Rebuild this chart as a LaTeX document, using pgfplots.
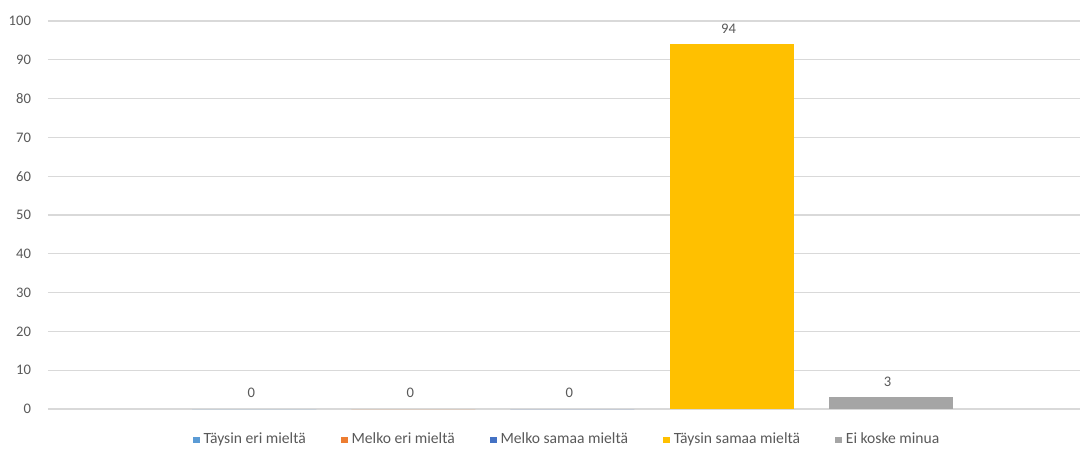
\documentclass[border=0pt]{standalone}
\usepackage{pgfplots}
\pgfplotsset{compat=1.18}
\usepackage{fontspec}
\setmainfont{Carlito}

\definecolor{sA}{HTML}{5B9BD5}
\definecolor{sB}{HTML}{ED7D31}
\definecolor{sC}{HTML}{4472C4}
\definecolor{sD}{HTML}{FFC000}
\definecolor{sE}{HTML}{A5A5A5}
\definecolor{txt}{HTML}{595959}
\definecolor{grid}{HTML}{D9D9D9}

\begin{document}
\begin{tikzpicture}
% fixed canvas around the plot area
\useasboundingbox (-24pt,-20.5pt) rectangle (516pt,204.5pt);
\begin{axis}[
  at={(0,0)}, anchor=south west,
  scale only axis,
  width=516pt, height=194pt,
  xmin=-0.296, xmax=6.19,
  ymin=0, ymax=100,
  ytick={0,10,...,100},
  xtick=\empty,
  axis line style={draw=none},
  y axis line style={draw=none},
  x axis line style={draw=grid, line width=0.6pt},
  major tick length=0pt,
  ymajorgrids,
  grid style={draw=grid, line width=0.6pt},
  tick label style={font=\fontsize{7.3}{9}\selectfont, text=txt},
  /pgf/number format/assume math mode=true,
  yticklabel style={xshift=-5pt},
  ybar, bar width=0.78, bar shift=0pt,
  nodes near coords,
  every node near coord/.append style={font=\fontsize{7.3}{9}\selectfont, text=txt, yshift=2pt, xshift=-1.5pt},
  clip=false,
  legend style={
    at={(0.504,-0.08)}, anchor=center, draw=none, fill=none,
    font=\fontsize{7.8}{9}\selectfont, text=txt,
    legend columns=5,
    /tikz/every even column/.append style={column sep=15.5pt},
  },
  legend image code/.code={\fill[#1] (0pt,-1.7pt) rectangle (3.4pt,1.7pt);},
]
\addplot[fill=sA, draw=none] coordinates {(1,0)};
\addlegendentry{Täysin eri mieltä}
\addplot[fill=sB, draw=none] coordinates {(2,0)};
\addlegendentry{Melko eri mieltä}
\addplot[fill=sC, draw=none] coordinates {(3,0)};
\addlegendentry{Melko samaa mieltä}
\addplot[fill=sD, draw=none] coordinates {(4,94)};
\addlegendentry{Täysin samaa mieltä}
\addplot[fill=sE, draw=none] coordinates {(5,3)};
\addlegendentry{Ei koske minua}
\end{axis}
\end{tikzpicture}
\end{document}
